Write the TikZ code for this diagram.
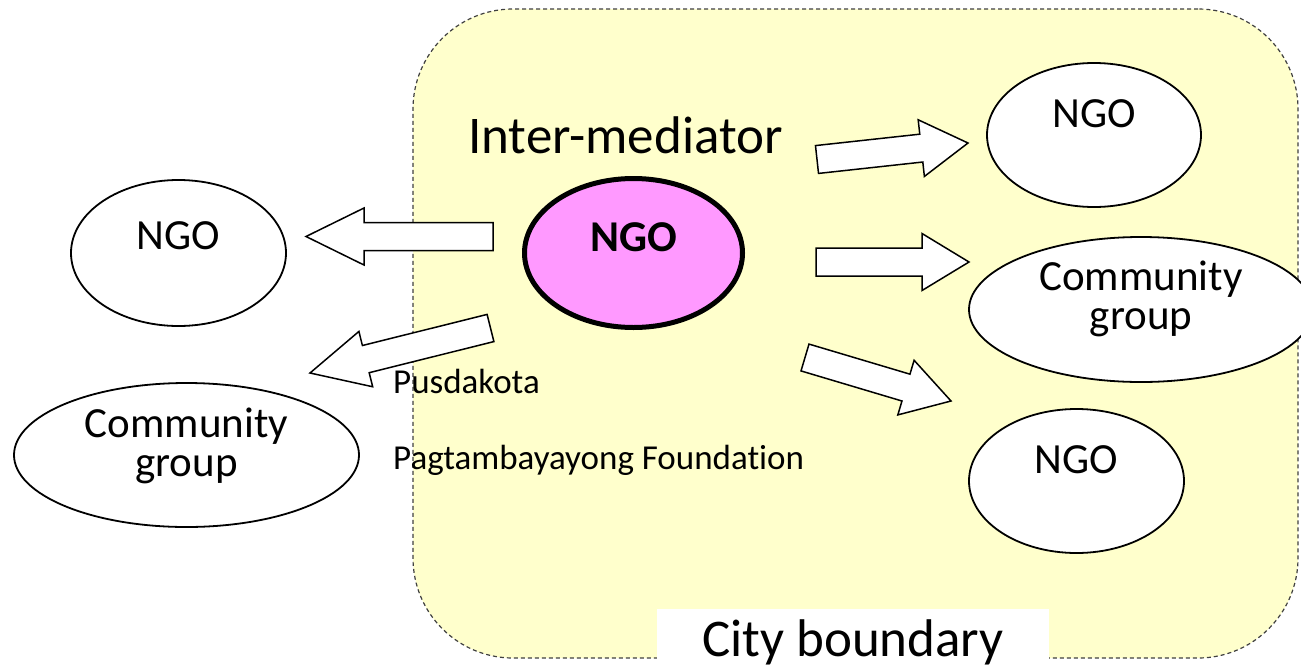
\documentclass[tikz,border=0pt]{standalone}
\usepackage{fontspec}
\setmainfont{Carlito}[Ligatures=NoCommon]
\usepackage{tikz}
\usetikzlibrary{shapes, calc, positioning}

\definecolor{cityyellow}{RGB}{255,255,204}
\definecolor{hubpink}{RGB}{255,153,255}
\definecolor{borderdash}{RGB}{64,64,64}

\tikzset{
  org/.style={ellipse, draw=black, fill=white, line width=1.8pt, minimum width=215pt, minimum height=146pt},
  orgtext/.style={font=\fontsize{43}{39}\selectfont, align=center, inner sep=0pt, yshift=#1},
  orgtext/.default=18pt,
  smalltext/.style={anchor=base west, inner sep=0pt, font=\fontsize{35}{35}\selectfont},
  blockarrow/.style={draw=black, fill=white, line width=1.5pt, line join=miter,
    to path={($(\tikztostart)!14pt!90:(\tikztotarget)$)
      -- ($(\tikztotarget)!#1!(\tikztostart)!14pt!90:(\tikztotarget)$)
      -- ($(\tikztotarget)!#1!(\tikztostart)!28.5pt!90:(\tikztotarget)$)
      -- (\tikztotarget)
      -- ($(\tikztotarget)!#1!(\tikztostart)!28.5pt!-90:(\tikztotarget)$)
      -- ($(\tikztotarget)!#1!(\tikztostart)!14pt!-90:(\tikztotarget)$)
      -- ($(\tikztostart)!14pt!-90:(\tikztotarget)$) -- cycle}},
  blockarrow/.default=47pt
}

\begin{document}
\begin{tikzpicture}[x=1pt, y=-1pt]
  \useasboundingbox (0,0) rectangle (1301,670);

  % city area
  \node[draw=borderdash, dash pattern=on 4pt off 3pt, line width=1.2pt, fill=cityyellow,
        rounded corners=100pt, minimum width=885pt, minimum height=649pt] (city) at (855.5,333.5) {};

  \node[font=\fontsize{53}{53}\selectfont] (mediator) at (625.5,135) {Inter-mediator};
  \node[smalltext] (pusdakota) at (393,393) {Pusdakota};
  \node[smalltext] (pagtam) at (393,469) {Pagtambayayong Foundation};

  % arrow ends
  \coordinate (outL) at (493,236.5);   \coordinate (inL) at (306,236.5);
  \coordinate (outLL) at (490.5,328);  \coordinate (inLL) at (310,373);
  \coordinate (outR) at (817,159.5);   \coordinate (inR) at (968,143);
  \coordinate (outRM) at (816,262);    \coordinate (inRM) at (969,262);
  \coordinate (outRB) at (805,357.5);  \coordinate (inRB) at (951,401);

  \draw[blockarrow=58pt] (outL) to (inL);
  \draw[blockarrow=57.5pt] (outLL) to (inLL);
  \draw[blockarrow] (outR) to (inR);
  \draw[blockarrow] (outRM) to (inRM);
  \draw[blockarrow] (outRB) to (inRB);

  % organisations
  \node[org, fill=hubpink, line width=5pt, minimum width=218pt, minimum height=149pt,
        label={[orgtext=16pt, font=\fontsize{44}{44}\selectfont\bfseries]center:NGO}] (hub) at (633.5,253) {};
  \node[org, label={[orgtext=17pt]center:NGO}] (ngoleft) at (178.5,253) {};
  \node[org, minimum width=345pt, minimum height=144pt,
        label={[orgtext=9pt]center:Community\\group}] (cgleft) at (186.5,455) {};
  \node[org, minimum width=214pt, minimum height=144pt, label={[orgtext=21pt]center:NGO}] (ngotop) at (1094,135) {};
  \node[org, minimum width=344pt, minimum height=145pt,
        label={[orgtext=11pt]center:Community\\group}] (cgright) at (1141,309.5) {};
  \node[org, minimum width=215pt, minimum height=144pt, label={[orgtext=21pt]center:NGO}] (ngobottom) at (1076.5,481) {};

  \node[fill=white, minimum width=392pt, minimum height=66pt, font=\fontsize{53}{53}\selectfont] (citylabel) at (853,642) {City boundary};
\end{tikzpicture}
\end{document}
